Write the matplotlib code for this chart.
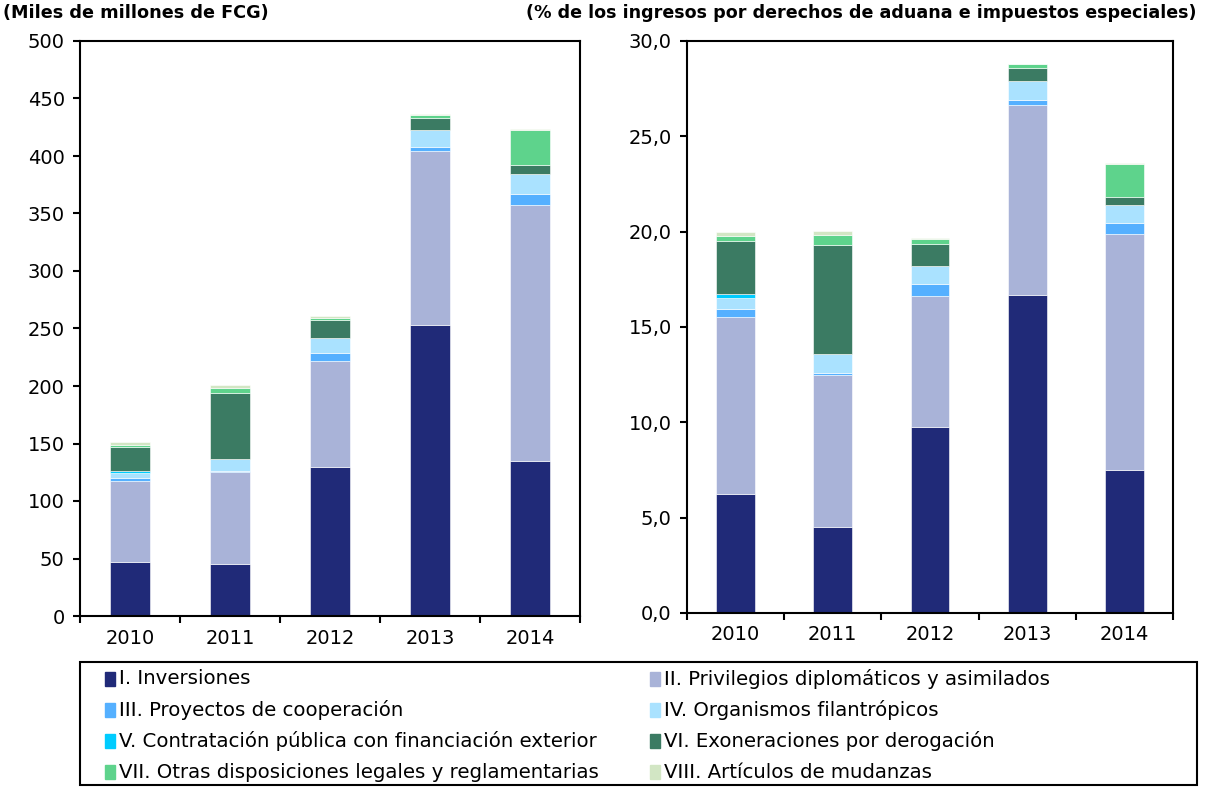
import numpy as np
import matplotlib
matplotlib.use("Agg")
import matplotlib.pyplot as plt
from matplotlib.patches import Rectangle
from matplotlib.ticker import FuncFormatter, FixedLocator

years = ["2010", "2011", "2012", "2013", "2014"]

series = [
    "I. Inversiones",
    "II. Privilegios diplomáticos y asimilados",
    "III. Proyectos de cooperación",
    "IV. Organismos filantrópicos",
    "V. Contratación pública con financiación exterior",
    "VI. Exoneraciones por derogación",
    "VII. Otras disposiciones legales y reglamentarias",
    "VIII. Artículos de mudanzas",
]
colors = ["#202a78", "#a9b3d8", "#55b0ff", "#aae2ff",
          "#00ccff", "#3b7b63", "#5ed38c", "#d2e6c4"]

# left panel: billions of FCG
fcg = [
    [47, 45, 130, 253, 135],       # I
    [70, 80.5, 92, 151, 222],      # II
    [3, 1, 7, 4, 10],              # III
    [4.3, 10, 13, 15, 17],         # IV
    [1.7, 0, 0, 0, 0],             # V
    [21, 57, 15, 10, 8.5],         # VI
    [2, 5, 2.5, 3, 30.5],          # VII
    [2, 2.5, 1, 0.5, 0.5],         # VIII
]

# right panel: % of customs and excise revenue
pct = [
    [6.24, 4.5, 9.75, 16.68, 7.5],
    [9.3, 7.97, 6.89, 9.96, 12.37],
    [0.38, 0.1, 0.6, 0.28, 0.58],
    [0.6, 1.0, 0.97, 1.0, 0.95],
    [0.21, 0, 0, 0, 0],
    [2.79, 5.75, 1.16, 0.68, 0.43],
    [0.27, 0.51, 0.24, 0.17, 1.73],
    [0.19, 0.19, 0.05, 0.03, 0.04],
]

plt.rcParams["font.family"] = "DejaVu Sans"

fig = plt.figure(figsize=(12.07, 7.87), dpi=100)
W, H = 1207, 787


def px_axes(x0, y0, x1, y1):
    return fig.add_axes([x0 / W, 1 - y1 / H, (x1 - x0) / W, (y1 - y0) / H])


ax1 = px_axes(80, 41, 580, 616)
ax2 = px_axes(687, 41, 1173, 613)


def draw(ax, data, ymax, step, fmt):
    x = np.arange(len(years))
    bottom = np.zeros(len(years))
    for vals, c in zip(data, colors):
        vals = np.array(vals, dtype=float)
        ax.bar(x, vals, 0.4, bottom=bottom, color=c, edgecolor="white",
               linewidth=0.4)
        bottom += vals
    ax.set_xlim(-0.5, len(years) - 0.5)
    ax.set_ylim(0, ymax)
    ax.set_yticks(np.arange(0, ymax + step / 2, step))
    ax.yaxis.set_major_formatter(FuncFormatter(fmt))
    ax.xaxis.set_major_locator(FixedLocator(np.arange(-0.5, len(years), 1)))
    ax.xaxis.set_major_formatter(FuncFormatter(lambda v, p: ""))
    ax.set_xticks(x, minor=True)
    ax.set_xticklabels(years, minor=True)
    ax.tick_params(axis="x", which="major", direction="out", length=5, width=1.5)
    ax.tick_params(axis="x", which="minor", length=0, pad=9, labelsize=14)
    ax.tick_params(axis="y", direction="out", length=5, width=1.5, labelsize=14, pad=6)
    for s in ax.spines.values():
        s.set_linewidth(1.5)


draw(ax1, fcg, 500, 50, lambda v, p: f"{v:.0f}")
draw(ax2, pct, 30, 5, lambda v, p: f"{v:.1f}".replace(".", ","))

fig.text(3 / W, 1 - 13 / H, "(Miles de millones de FCG)", fontsize=12.7,
         fontweight="bold", va="center", ha="left")
fig.text(1197 / W, 1 - 13 / H,
         "(% de los ingresos por derechos de aduana e impuestos especiales)",
         fontsize=12.6, fontweight="bold", va="center", ha="right")

# legend box
fig.patches.append(Rectangle((80 / W, 1 - 785 / H), (1197 - 80) / W, (785 - 662) / H,
                             transform=fig.transFigure, fill=False,
                             edgecolor="black", linewidth=1.5))
col_x = [105, 650]
row_y = [679, 710, 741, 772]
for i, (name, c) in enumerate(zip(series, colors)):
    cx = col_x[i % 2]
    cy = row_y[i // 2]
    fig.patches.append(Rectangle((cx / W, 1 - (cy + 7) / H), 10 / W, 14 / H,
                                 transform=fig.transFigure, color=c))
    fig.text((cx + 14) / W, 1 - cy / H, name, fontsize=14.2, va="center", ha="left")

fig.savefig("out.png", dpi=100)
